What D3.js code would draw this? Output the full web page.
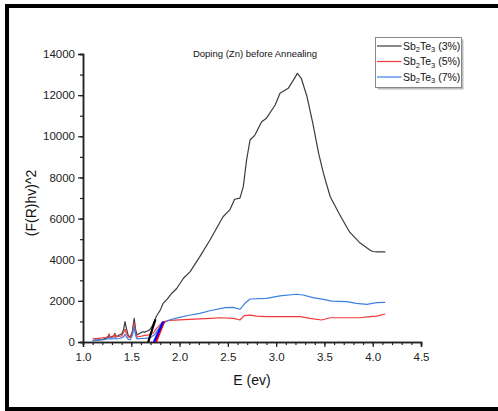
<!DOCTYPE html>
<html>
<head>
<meta charset="utf-8">
<script src="https://cdn.jsdelivr.net/npm/d3@7"></script>
<style>
  html, body { margin: 0; padding: 0; background: #fff; }
  svg { display: block; font-family: "Liberation Sans", Arial, sans-serif; }
</style>
</head>
<body>
<svg id="chart" width="498" height="411"></svg>
<script>
// Tauc plot data: photon energy E (eV) vs (F(R)hv)^2
const energy3 = [1.10,1.12,1.14,1.16,1.18,1.20,1.22,1.24,1.26,1.27,1.28,1.30,1.32,1.33,1.34,1.36,1.38,1.40,1.42,1.435,1.45,1.47,1.49,1.51,1.53,1.545,1.56,1.58,1.60,1.62,1.64,1.66,1.68,1.70,1.72,1.745,1.76,1.78,1.80,1.83,1.87,1.92,1.97,2.04,2.11,2.21,2.315,2.45,2.52,2.57,2.625,2.66,2.694,2.73,2.78,2.85,2.90,2.99,3.04,3.125,3.18,3.22,3.26,3.32,3.38,3.44,3.49,3.56,3.66,3.76,3.87,3.97,4.00,4.05,4.13];
const value3  = [60,80,90,100,110,120,150,180,250,380,220,260,300,420,280,300,350,380,600,987,650,300,250,500,1150,600,350,400,450,500,480,520,560,650,800,1070,1250,1400,1550,1880,2075,2370,2600,3100,3420,4150,4960,6090,6420,6940,6990,7550,8850,9820,10060,10710,10880,11520,12090,12330,12740,13060,12820,11920,10630,9170,8200,7060,6170,5350,4810,4470,4400,4380,4380];

const energy5 = [1.10,1.12,1.14,1.16,1.18,1.20,1.22,1.24,1.26,1.27,1.28,1.30,1.32,1.33,1.34,1.36,1.38,1.40,1.42,1.435,1.45,1.47,1.49,1.51,1.53,1.545,1.56,1.58,1.60,1.62,1.64,1.66,1.68,1.70,1.73,1.76,1.79,1.82,1.85,1.90,2.00,2.10,2.21,2.32,2.42,2.56,2.625,2.67,2.73,2.80,2.90,3.05,3.25,3.35,3.47,3.56,3.70,3.87,3.97,4.04,4.13];
const value5  = [150,160,170,180,190,200,220,230,280,380,230,240,260,380,250,260,280,300,450,620,420,250,220,400,940,450,250,260,280,300,320,330,350,380,450,650,800,950,1000,1050,1080,1100,1120,1150,1180,1150,1070,1280,1310,1260,1230,1230,1230,1150,1070,1180,1180,1180,1230,1260,1360];

const energy7 = [1.10,1.14,1.18,1.22,1.26,1.27,1.28,1.32,1.33,1.34,1.38,1.42,1.435,1.45,1.47,1.49,1.51,1.53,1.545,1.56,1.60,1.64,1.68,1.71,1.74,1.77,1.80,1.83,1.86,1.90,2.00,2.10,2.21,2.315,2.47,2.556,2.625,2.677,2.73,2.90,3.04,3.21,3.28,3.38,3.49,3.575,3.73,3.83,3.94,4.04,4.13];
const value7  = [80,90,100,120,150,250,140,160,230,150,170,250,380,250,130,120,300,745,300,150,170,180,200,250,350,550,750,900,1000,1080,1200,1300,1390,1520,1670,1685,1590,1880,2090,2120,2240,2320,2285,2155,2075,1990,1960,1880,1830,1910,1930];

// Linear fits extrapolated to the energy axis (band-gap estimates)
const fitEnergy3 = [1.675, 1.75];  const fitValue3 = [0, 1100];
const fitEnergy7 = [1.735, 1.83];  const fitValue7 = [0, 990];
const fitEnergy5 = [1.755, 1.84];  const fitValue5 = [0, 1000];

const seriesNames  = ["3%", "5%", "7%"];
const seriesColors = ["#3c3c3c", "#f03a3a", "#3b7fe4"];
const fitColors    = ["#000000", "#ff0000", "#0000ff"];

const xTicks = [1.0,1.5,2.0,2.5,3.0,3.5,4.0,4.5];
const yTicks = [0,2000,4000,6000,8000,10000,12000,14000];

const svg = d3.select("#chart");

// outer frame
svg.append("rect")
  .attr("x", 7).attr("y", 6).attr("width", 520).attr("height", 403)
  .attr("fill", "none").attr("stroke", "#000").attr("stroke-width", 4);

const x = d3.scaleLinear().domain([1.0, 4.5]).range([83, 421]);
const y = d3.scaleLinear().domain([0, 14000]).range([342, 54]);

const axisColor = "#222";

// x axis
const gx = svg.append("g").attr("transform", "translate(0,342)");
gx.call(d3.axisBottom(x).tickValues(d3.range(1.0, 4.501, 0.1)).tickSize(3).tickFormat(""));
gx.call(g => g.selectAll(".tick line").attr("stroke", axisColor));
const gxMajor = svg.append("g").attr("transform", "translate(0,342)");
gxMajor.call(d3.axisBottom(x).tickValues(xTicks).tickSize(5).tickPadding(6).tickFormat(d3.format(".1f")));
[gx, gxMajor].forEach(g => {
  g.select(".domain").attr("stroke", axisColor).attr("stroke-width", 1.5);
  g.selectAll(".tick line").attr("stroke", axisColor).attr("stroke-width", 1.2);
  g.selectAll("text").attr("font-size", 11.5).attr("fill", "#222")
    .attr("font-family", "Liberation Sans, Arial, sans-serif");
});

// y axis
const gy = svg.append("g").attr("transform", "translate(83,0)");
gy.call(d3.axisLeft(y).tickValues(d3.range(0, 14001, 1000)).tickSize(3).tickFormat(""));
const gyMajor = svg.append("g").attr("transform", "translate(83,0)");
gyMajor.call(d3.axisLeft(y).tickValues(yTicks).tickSize(5).tickPadding(3).tickFormat(d3.format("d")));
[gy, gyMajor].forEach(g => {
  g.select(".domain").attr("stroke", axisColor).attr("stroke-width", 1.5);
  g.selectAll(".tick line").attr("stroke", axisColor).attr("stroke-width", 1.2);
  g.selectAll("text").attr("font-size", 11.5).attr("fill", "#222")
    .attr("font-family", "Liberation Sans, Arial, sans-serif");
});

// data lines
const line = d3.line().x(d => x(d[0])).y(d => y(d[1]));
const series = [
  d3.zip(energy3, value3),
  d3.zip(energy5, value5),
  d3.zip(energy7, value7)
];
series.forEach((pts, i) => {
  svg.append("path").datum(pts)
    .attr("d", line).attr("fill", "none")
    .attr("stroke", seriesColors[i]).attr("stroke-width", 1.2)
    .attr("stroke-linejoin", "round");
});

// fit lines
const fits = [
  d3.zip(fitEnergy3, fitValue3),
  d3.zip(fitEnergy5, fitValue5),
  d3.zip(fitEnergy7, fitValue7)
];
fits.forEach((pts, i) => {
  svg.append("path").datum(pts)
    .attr("d", line).attr("fill", "none")
    .attr("stroke", fitColors[i]).attr("stroke-width", 2.2);
});

// title
svg.append("text")
  .attr("x", 255).attr("y", 57).attr("text-anchor", "middle")
  .attr("font-size", 9.5).attr("fill", "#111")
  .text("Doping (Zn) before Annealing");

// axis titles
svg.append("text")
  .attr("x", 252).attr("y", 385).attr("text-anchor", "middle")
  .attr("font-size", 14).attr("fill", "#111")
  .text("E (ev)");
svg.append("text")
  .attr("transform", "translate(36,203) rotate(-90)")
  .attr("text-anchor", "middle")
  .attr("font-size", 14).attr("fill", "#111")
  .text("(F(R)hv)^2");

// legend
const legend = svg.append("g");
legend.append("rect")
  .attr("x", 377.5).attr("y", 39.5).attr("width", 86).attr("height", 50)
  .attr("fill", "#bbb");
legend.append("rect")
  .attr("x", 375.5).attr("y", 37.5).attr("width", 86).attr("height", 50)
  .attr("fill", "#fff").attr("stroke", "#888").attr("stroke-width", 1);
const rowY = [46, 61.5, 77];
seriesNames.forEach((name, i) => {
  legend.append("line")
    .attr("x1", 377).attr("x2", 401.5).attr("y1", rowY[i]).attr("y2", rowY[i])
    .attr("stroke", seriesColors[i]).attr("stroke-width", 1.2);
  const t = legend.append("text")
    .attr("x", 403).attr("y", rowY[i] + 3.5)
    .attr("font-size", 10.5).attr("fill", "#111");
  t.append("tspan").text("Sb");
  t.append("tspan").attr("font-size", 7.5).attr("dy", 2.5).text("2");
  t.append("tspan").attr("dy", -2.5).text("Te");
  t.append("tspan").attr("font-size", 7.5).attr("dy", 2.5).text("3");
  t.append("tspan").attr("dy", -2.5).text(" (" + name + ")");
});
</script>
</body>
</html>
